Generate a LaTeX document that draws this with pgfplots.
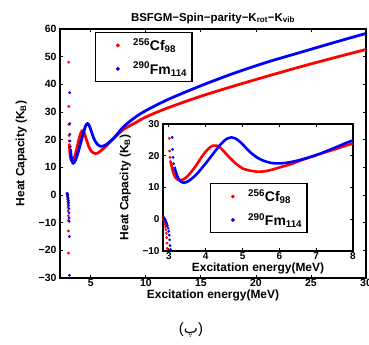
\documentclass[border=0pt]{standalone}
\usepackage{pgfplots}
\pgfplotsset{compat=1.18}
\usepackage{pgfplotstable}
\usepackage{fontspec}
\setmainfont{Liberation Sans}
\newfontfamily\arabicfont[Script=Arabic]{DejaVu Sans}
\TeXXeTstate=1
\definecolor{cfred}{RGB}{255,0,0}
\definecolor{fmblue}{RGB}{0,0,255}

\pgfplotstableread{
x y
2.84 0.5
2.855 0.2
2.87 -0.3
2.885 -0.9
2.90 -1.6
2.91 -2.4
2.92 -3.3
2.93 -4.4
2.94 -5.8
2.948 -7.5
2.955 -9.2
2.96 -13
2.965 -21
2.99 48
3.00 32
3.01 25.5
3.02 21.5
3.03 19.5
3.04 18.2
}\cfpole

\pgfplotstableread{
x y
3.05 18.0
3.08 16.5
3.12 14.6
3.18 13.1
3.25 12.4
3.30 12.3
3.40 12.6
3.50 13.5
3.60 14.8
3.70 16.3
3.80 18.0
3.90 19.8
4.00 21.3
4.10 22.5
4.20 23.2
4.30 23.2
4.40 22.5
4.50 21.3
4.60 20.0
4.70 18.8
4.80 17.7
4.90 16.8
5.00 16.0
5.20 15.3
5.40 15.0
5.60 15.1
5.80 15.6
6.00 16.3
6.30 17.3
6.60 18.6
7.00 20.2
7.50 22.0
8.00 23.8
9.00 26.0
10.0 28.2
12.0 31.5
15.0 35.7
18.0 39.4
21.0 42.9
24.0 46.3
27.0 49.5
30.0 52.6
}\cfcurve

\pgfplotstableread{
x y
2.86 0.6
2.88 0.2
2.90 -0.2
2.92 -0.7
2.94 -1.3
2.96 -2.0
2.98 -2.8
2.995 -3.8
3.01 -5.0
3.02 -6.5
3.03 -8.3
3.04 -9.5
3.045 -15
3.05 -29
3.08 37
3.09 25.8
3.10 22.0
3.115 19.5
3.13 17.5
}\fmpole

\pgfplotstableread{
x y
3.15 16.5
3.20 14.5
3.26 12.8
3.33 11.8
3.40 11.5
3.50 11.8
3.60 12.6
3.70 13.6
3.80 14.8
3.90 16.2
4.00 17.6
4.10 19.1
4.20 20.6
4.30 22.1
4.40 23.5
4.50 24.7
4.60 25.5
4.70 25.8
4.80 25.5
4.90 24.7
5.00 23.6
5.10 22.4
5.20 21.2
5.40 19.4
5.60 18.3
5.80 17.7
6.00 17.6
6.20 17.8
6.50 18.5
7.00 20.2
7.50 22.5
8.00 24.8
9.00 28.0
10.0 30.5
12.0 34.5
15.0 39.5
18.0 44.0
21.0 48.0
24.0 51.5
27.0 55.0
30.0 58.4
}\fmcurve

\pgfplotsset{
  mystyle/.style={
    scale only axis,
    axis line style={line width=1.3pt},
    tick style={line width=0.8pt, black},
    tick align=inside,
    major tick length=3.5pt,
    tick label style={font=\bfseries\fontsize{10.5}{11}\selectfont},
    label style={font=\bfseries\fontsize{12}{13}\selectfont},
    /pgf/number format/assume math mode=true,
    legend style={draw=black, line width=1.4pt, font=\bfseries\fontsize{14}{14}\selectfont,
      legend cell align=left, inner xsep=3pt, inner ysep=4pt, row sep=6pt},
    legend image code/.code={\path[draw=none,fill=none] (0cm,-0.05cm) rectangle (1.15cm,0.05cm); \fill[#1] (0.68cm,0cm) circle (1.1pt);},
  }
}

\begin{document}
\begin{tikzpicture}
\useasboundingbox (0,0) rectangle (369bp,345bp);
\begin{axis}[mystyle,
  at={(60bp,67bp)}, anchor=south west,
  width=306bp, height=249bp,
  xmin=2.2, xmax=30, ymin=-30, ymax=60,
  xtick={5,10,15,20,25,30},
  ytick={-30,-20,-10,0,10,20,30,40,50,60},
  yticklabels={−30,−20,−10,0,10,20,30,40,50,60},
  xticklabel style={yshift=2pt},
  xlabel={Excitation energy(MeV)},
  ylabel={Heat Capacity (K\textsubscript{B})},
  xlabel style={yshift=3.5pt},
  ylabel style={yshift=5pt},
  title={BSFGM−Spin−parity−K\textsubscript{rot}−K\textsubscript{vib}},
  title style={font=\bfseries\fontsize{11.5}{12}\selectfont, yshift=-4pt},
  legend style={at={(0.114,0.988)}, anchor=north west},
]
\addplot[only marks, mark=*, mark size=1.2pt, cfred, forget plot] table {\cfpole};
\addplot[only marks, mark=*, mark size=1.2pt, fmblue, forget plot] table {\fmpole};
\addplot[cfred, line width=2.8pt, smooth, forget plot] table {\cfcurve};
\addplot[fmblue, line width=2.8pt, smooth, forget plot] table {\fmcurve};
\addlegendimage{cfred}
\addlegendentry{\textsuperscript{256}Cf\textsubscript{98}}
\addlegendimage{fmblue}
\addlegendentry{\textsuperscript{290}Fm\textsubscript{114}}
\end{axis}

\begin{axis}[mystyle,
  at={(163bp,94bp)}, anchor=south west,
  width=190bp, height=127bp,
  axis background/.style={fill=white},
  xmin=2.84, xmax=8, ymin=-10, ymax=30,
  xtick={3,4,5,6,7,8},
  ytick={-10,0,10,20,30},
  yticklabels={−10,0,10,20,30},
  tick label style={font=\bfseries\fontsize{10}{10}\selectfont},
  xticklabel style={yshift=2pt},
  xlabel={Excitation energy(MeV)},
  ylabel={Heat Capacity (K\textsubscript{B})},
  xlabel style={yshift=4pt},
  ylabel style={yshift=5pt},
  legend style={at={(0.247,0.535)}, anchor=north west},
]
\addplot[only marks, mark=*, mark size=1.2pt, cfred, forget plot] table {\cfpole};
\addplot[only marks, mark=*, mark size=1.2pt, fmblue, forget plot] table {\fmpole};
\addplot[cfred, line width=2.6pt, smooth, forget plot] table {\cfcurve};
\addplot[fmblue, line width=2.6pt, smooth, forget plot] table {\fmcurve};
\addlegendimage{cfred}
\addlegendentry{\textsuperscript{256}Cf\textsubscript{98}}
\addlegendimage{fmblue}
\addlegendentry{\textsuperscript{290}Fm\textsubscript{114}}
\end{axis}

\node[font=\fontsize{15}{17}\selectfont] at (191bp,15bp) {({\arabicfont\beginR پ\endR})};
\end{tikzpicture}
\end{document}
